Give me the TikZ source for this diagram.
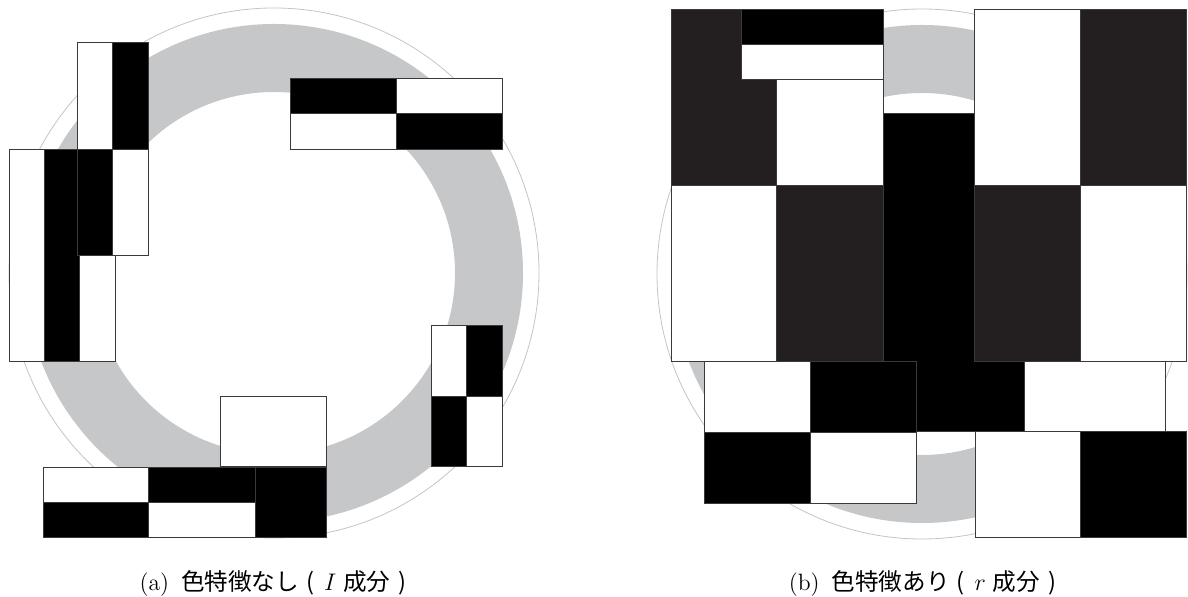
\documentclass[tikz,border=0pt]{standalone}
\usepackage{fontspec}
\newfontfamily\cjk{Noto Sans CJK JP}
\definecolor{band}{HTML}{C6C7C9}
\definecolor{ring}{HTML}{C4C4C4}
\definecolor{dk}{HTML}{231F20}
\definecolor{edge}{HTML}{3A3A3A}
\tikzset{
  cellw/.style={fill=white, draw=edge, line width=0.5pt},
  cellb/.style={fill=black, draw=edge, line width=0.5pt},
  celld/.style={fill=dk, draw=edge, line width=0.5pt},
  ringline/.style={draw=ring, line width=0.4pt},
  bandfill/.style={fill=band, even odd rule},
  captext/.style={font=\fontsize{11.8}{14}\selectfont, inner sep=0pt, anchor=base},
}
\begin{document}
\begin{tikzpicture}[x=0.5pt,y=-0.5pt]
\useasboundingbox (0,0) rectangle (1188,597);

% ---------------- left panel ----------------
\coordinate (lc) at (274,273);
\fill[bandfill] (lc) circle[radius=124.5pt] (lc) circle[radius=90.5pt];
\draw[ringline] (lc) circle[radius=132.5pt];

% B : three tall columns
\draw[cellw] (9,150) rectangle (44.3,362);
\draw[cellb] (44.3,150) rectangle (79.5,362);
\draw[cellw] (79.5,150) rectangle (115,362);
% A : 2x2
\draw[cellw] (77,43) rectangle (112.5,149.7);
\draw[cellb] (112.5,43) rectangle (148,149.7);
\draw[cellb] (77,149.7) rectangle (112.5,255.7);
\draw[cellw] (112.5,149.7) rectangle (148,255.7);
% C : 2x2
\draw[cellb] (290,79) rectangle (396.4,114);
\draw[cellw] (396.4,79) rectangle (502.5,114);
\draw[cellw] (290,114) rectangle (396.4,150);
\draw[cellb] (396.4,114) rectangle (502.5,150);
% D : 2x2
\draw[cellw] (431.4,325.7) rectangle (466.8,396.7);
\draw[cellb] (466.8,325.7) rectangle (502,396.7);
\draw[cellb] (431.4,396.7) rectangle (466.8,467);
\draw[cellw] (466.8,396.7) rectangle (502,467);
% E : white box
\draw[cellw] (220.7,396.5) rectangle (326.5,466.9);
% F : bottom row
\draw[cellw] (43.2,467.2) rectangle (148.6,502.5);
\draw[cellb] (148.6,467.2) rectangle (255,502.5);
\draw[cellb] (43.2,502.5) rectangle (148.6,538);
\draw[cellw] (148.6,502.5) rectangle (255,538);
\draw[cellb] (255,467.2) rectangle (326.5,538);

% ---------------- right panel ----------------
\coordinate (rc) at (922,274);
\fill[bandfill] (rc) circle[radius=124.5pt] (rc) circle[radius=90.5pt];
\draw[ringline] (rc) circle[radius=132.5pt];

% centre feature (black | white)
\draw[cellb] (883,114) rectangle (1024,432);
\draw[cellw] (1024,114) rectangle (1165,432);
% left big grid
\draw[celld] (671,9.5) rectangle (776.4,186);
\draw[cellw] (776.4,9.5) rectangle (883,186);
\draw[cellw] (671,186) rectangle (776.4,362);
\draw[celld] (776.4,186) rectangle (883,362);
% small top rect
\draw[cellb] (741.4,9.3) rectangle (883,44.3);
\draw[cellw] (741.4,44.3) rectangle (883,79.5);
% right big grid
\draw[cellw] (974,9.3) rectangle (1080.6,186);
\draw[celld] (1080.6,9.3) rectangle (1186,186);
\draw[celld] (974,186) rectangle (1080.6,362);
\draw[cellw] (1080.6,186) rectangle (1186,362);
% lower-left 2x2
\draw[cellw] (704.7,362) rectangle (810,432.7);
\draw[cellb] (810,362) rectangle (916,432.7);
\draw[cellb] (704.7,432.7) rectangle (810,503.3);
\draw[cellw] (810,432.7) rectangle (916,503.3);
% lower-right 1x2
\draw[cellw] (975,432) rectangle (1080.6,538);
\draw[cellb] (1080.6,432) rectangle (1186,538);

% ---------------- captions ----------------
\node[captext] (capa) at (273,590.5) {(a)\hspace{6pt}{\cjk 色特徴なし}\hspace{3.5pt}{\cjk (}\hspace{5pt}$I$\hspace{3.5pt}{\cjk 成分}\hspace{4pt}{\cjk )}};
\node[captext] (capb) at (922.5,590.5) {(b)\hspace{6pt}{\cjk 色特徴あり}\hspace{3.5pt}{\cjk (}\hspace{5pt}$r$\hspace{3.5pt}{\cjk 成分}\hspace{4pt}{\cjk )}};
\end{tikzpicture}
\end{document}
